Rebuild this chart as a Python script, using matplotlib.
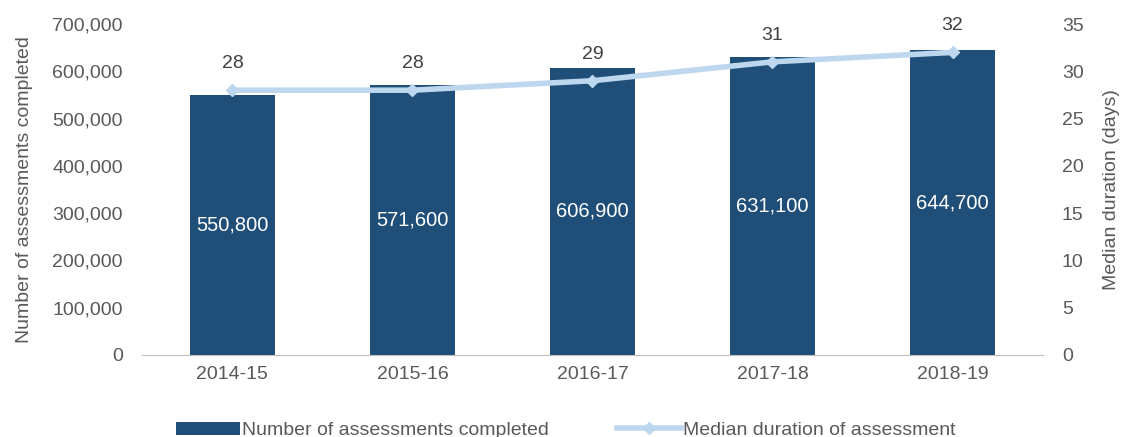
import matplotlib.pyplot as plt
from matplotlib.ticker import FuncFormatter

years = ['2014-15', '2015-16', '2016-17', '2017-18', '2018-19']
assessments = [550800, 571600, 606900, 631100, 644700]
median_days = [28, 28, 29, 31, 32]

bar_color = '#1F4E79'
line_color = '#BDD7EE'
text_color = '#595959'

plt.rcParams['font.family'] = ['Liberation Sans', 'DejaVu Sans']

fig = plt.figure(figsize=(11.21, 4.37), dpi=100)
ax = fig.add_axes([0.127, 0.188, 0.803, 0.757])
ax2 = ax.twinx()

x = range(len(years))
bars = ax.bar(x, assessments, width=0.47, color=bar_color, label='Number of assessments completed')
for xi, v in zip(x, assessments):
    ax.text(xi, v / 2, f'{v:,}', ha='center', va='center', color='white', fontsize=14.5)

ln, = ax2.plot(x, median_days, color=line_color, lw=4, marker='D', ms=6,
               label='Median duration of assessment')
for xi, v in zip(x, median_days):
    ax2.annotate(str(v), (xi, v), xytext=(0, 13), textcoords='offset points',
                 ha='center', va='bottom', color='#404040', fontsize=14)

ax.set_xlim(-0.5, len(years) - 0.5)
ax.set_ylim(0, 700000)
ax2.set_ylim(0, 35)
ax.set_yticks(range(0, 700001, 100000))
ax2.set_yticks(range(0, 36, 5))
ax.yaxis.set_major_formatter(FuncFormatter(lambda v, p: f'{int(v):,}'))
ax.set_xticks(list(x))
ax.set_xticklabels(years)

for a in (ax, ax2):
    for s in a.spines.values():
        s.set_visible(False)
    a.tick_params(length=0, colors=text_color, labelsize=14)
ax.spines['bottom'].set_visible(True)
ax.spines['bottom'].set_color('#BFBFBF')
ax.tick_params(axis='x', pad=8)
ax.tick_params(axis='y', pad=14)
ax2.tick_params(axis='y', pad=14)

ax.set_ylabel('Number of assessments completed', color=text_color, fontsize=14, labelpad=14)
ax2.set_ylabel('Median duration (days)', color=text_color, fontsize=14, labelpad=14)

fig.legend([bars, ln], ['Number of assessments completed', 'Median duration of assessment'],
           loc='lower center', bbox_to_anchor=(0.505, -0.045), ncol=2, frameon=False,
           fontsize=14, labelcolor=text_color, handlelength=3.3, handletextpad=0.1,
           columnspacing=3.5)

fig.savefig('out.png', dpi=100)
